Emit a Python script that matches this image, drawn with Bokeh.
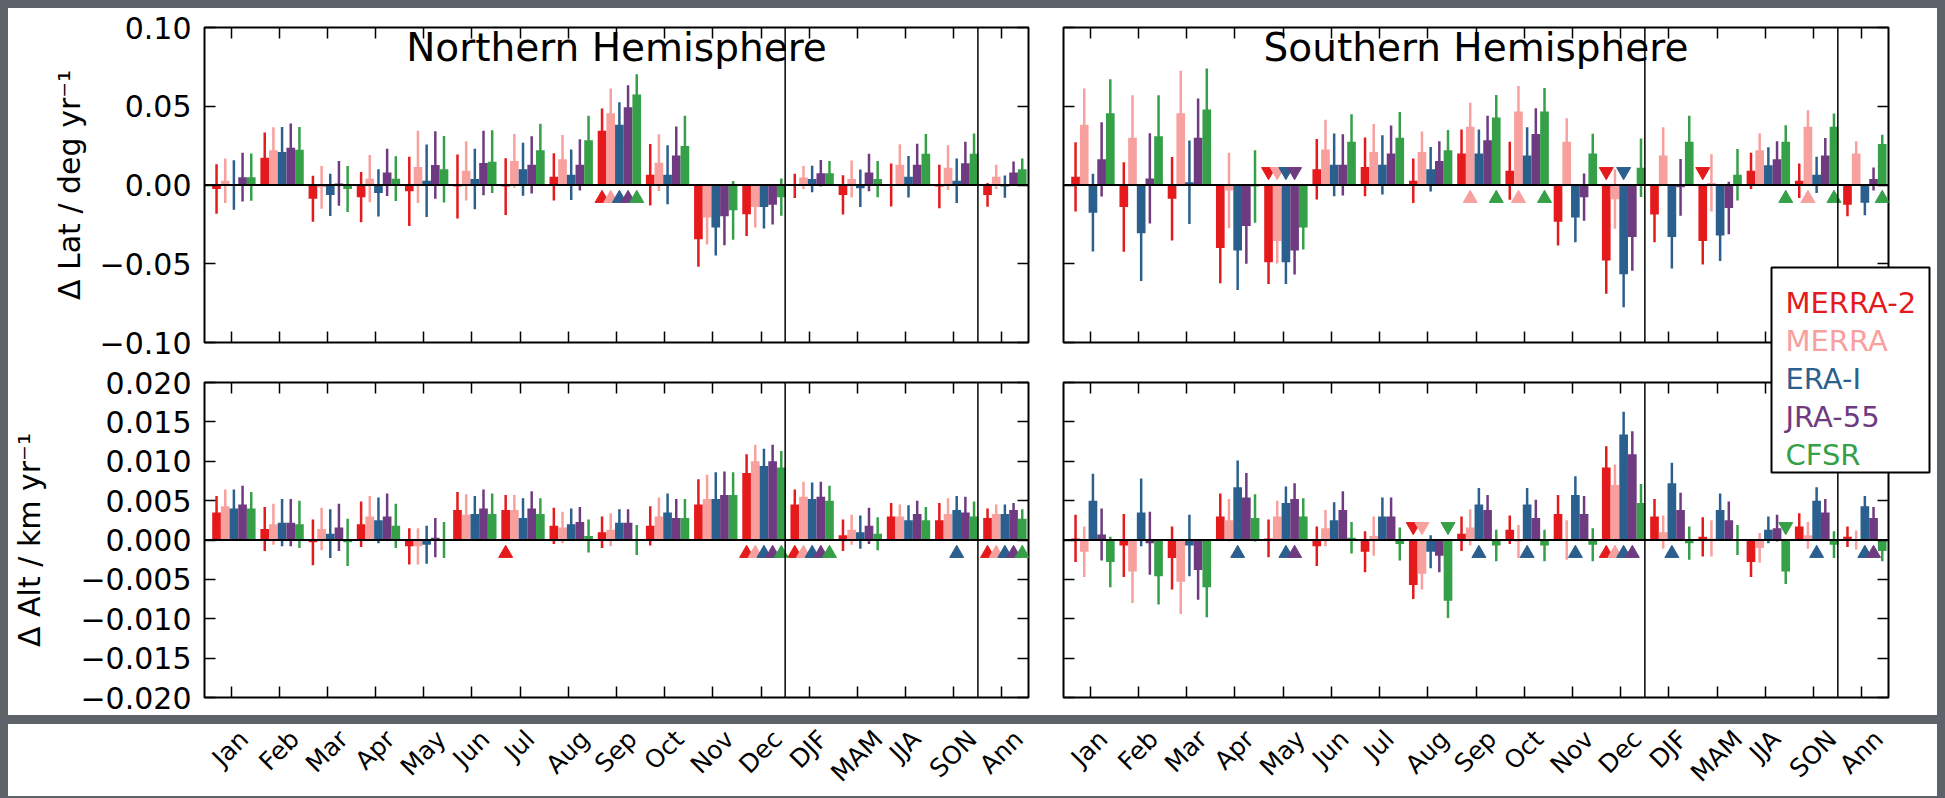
import math
from bokeh.plotting import figure
from bokeh.models import (Range1d, LinearAxis, FixedTicker, CustomJSTickFormatter,
                          Span, Label, GridBox, ColumnDataSource)
from bokeh.layouts import column, row
from bokeh.embed import file_html
from bokeh.resources import INLINE
from bokeh.core.properties import value

# ---------------- data ----------------
categories = ["Jan", "Feb", "Mar", "Apr", "May", "Jun", "Jul", "Aug", "Sep", "Oct",
              "Nov", "Dec", "DJF", "MAM", "JJA", "SON", "Ann"]
series = ["MERRA-2", "MERRA", "ERA-I", "JRA-55", "CFSR"]
colors = ["#e41a1c", "#f8a09e", "#2b5f8e", "#6f3b80", "#35a048"]

# Northern Hemisphere, latitude trend (deg / yr)
nh_lat_merra2 = [-0.0025, 0.0173, -0.0088, -0.0077, -0.0040, -0.0010, -0.0010, 0.0052, 0.0345, 0.0065, -0.0345, -0.0186, -0.0005, -0.0063, 0.0000, -0.0010, -0.0063]
nh_lat_merra2_err = [0.0157, 0.0160, 0.0146, 0.0160, 0.0220, 0.0203, 0.0180, 0.0150, 0.0140, 0.0195, 0.0174, 0.0138, 0.0077, 0.0125, 0.0136, 0.0138, 0.0075]
nh_lat_merra = [0.0027, 0.0220, -0.0015, 0.0040, 0.0115, 0.0090, 0.0153, 0.0163, 0.0456, 0.0142, -0.0207, -0.0140, 0.0048, 0.0038, 0.0128, 0.0110, 0.0052]
nh_lat_merra_err = [0.0142, 0.0146, 0.0136, 0.0150, 0.0230, 0.0188, 0.0171, 0.0155, 0.0157, 0.0180, 0.0171, 0.0130, 0.0073, 0.0117, 0.0130, 0.0142, 0.0077]
nh_lat_erai = [0.0000, 0.0210, -0.0063, -0.0050, 0.0027, 0.0038, 0.0100, 0.0065, 0.0383, 0.0065, -0.0270, -0.0140, 0.0038, -0.0020, 0.0052, 0.0027, -0.0010]
nh_lat_erai_err = [0.0157, 0.0159, 0.0134, 0.0150, 0.0230, 0.0192, 0.0169, 0.0161, 0.0142, 0.0188, 0.0178, 0.0136, 0.0084, 0.0119, 0.0132, 0.0142, 0.0071]
nh_lat_jra55 = [0.0050, 0.0236, 0.0010, 0.0080, 0.0127, 0.0140, 0.0128, 0.0128, 0.0493, 0.0188, -0.0199, -0.0125, 0.0075, 0.0080, 0.0128, 0.0138, 0.0080]
nh_lat_jra55_err = [0.0155, 0.0155, 0.0142, 0.0150, 0.0215, 0.0205, 0.0182, 0.0163, 0.0140, 0.0184, 0.0184, 0.0125, 0.0084, 0.0119, 0.0134, 0.0136, 0.0069]
nh_lat_cfsr = [0.0050, 0.0224, -0.0025, 0.0040, 0.0100, 0.0148, 0.0220, 0.0284, 0.0575, 0.0247, -0.0161, -0.0077, 0.0075, 0.0038, 0.0199, 0.0199, 0.0100]
nh_lat_cfsr_err = [0.0150, 0.0144, 0.0146, 0.0142, 0.0211, 0.0199, 0.0169, 0.0155, 0.0128, 0.0192, 0.0186, 0.0119, 0.0077, 0.0115, 0.0125, 0.0128, 0.0069]

# Southern Hemisphere, latitude trend (deg / yr)
sh_lat_merra2 = [0.0052, -0.0140, -0.0088, -0.0400, -0.0490, 0.0100, 0.0115, 0.0027, 0.0200, 0.0090, -0.0234, -0.0480, -0.0188, -0.0355, 0.0090, 0.0027, -0.0125]
sh_lat_merra2_err = [0.0220, 0.0284, 0.0265, 0.0224, 0.0138, 0.0192, 0.0186, 0.0142, 0.0153, 0.0184, 0.0150, 0.0210, 0.0176, 0.0150, 0.0115, 0.0109, 0.0073]
sh_lat_merra = [0.0383, 0.0300, 0.0456, -0.0035, -0.0355, 0.0226, 0.0210, 0.0210, 0.0370, 0.0466, 0.0274, -0.0090, 0.0188, 0.0013, 0.0220, 0.0370, 0.0200]
sh_lat_merra_err = [0.0230, 0.0270, 0.0270, 0.0240, 0.0144, 0.0188, 0.0178, 0.0130, 0.0153, 0.0163, 0.0150, 0.0188, 0.0178, 0.0182, 0.0109, 0.0105, 0.0077]
sh_lat_erai = [-0.0176, -0.0307, 0.0017, -0.0416, -0.0490, 0.0128, 0.0128, 0.0100, 0.0200, 0.0188, -0.0207, -0.0566, -0.0330, -0.0320, 0.0125, 0.0065, -0.0113]
sh_lat_erai_err = [0.0247, 0.0303, 0.0265, 0.0250, 0.0138, 0.0199, 0.0188, 0.0142, 0.0153, 0.0178, 0.0157, 0.0210, 0.0200, 0.0163, 0.0115, 0.0115, 0.0079]
sh_lat_jra55 = [0.0163, 0.0042, 0.0300, -0.0260, -0.0416, 0.0128, 0.0200, 0.0153, 0.0284, 0.0324, -0.0077, -0.0330, -0.0015, -0.0146, 0.0163, 0.0188, 0.0038]
sh_lat_jra55_err = [0.0236, 0.0286, 0.0250, 0.0240, 0.0153, 0.0194, 0.0178, 0.0125, 0.0155, 0.0163, 0.0150, 0.0215, 0.0180, 0.0167, 0.0115, 0.0111, 0.0073]
sh_lat_cfsr = [0.0456, 0.0310, 0.0480, -0.0010, -0.0270, 0.0274, 0.0300, 0.0220, 0.0429, 0.0466, 0.0200, 0.0110, 0.0274, 0.0065, 0.0274, 0.0370, 0.0260]
sh_lat_cfsr_err = [0.0215, 0.0260, 0.0260, 0.0230, 0.0140, 0.0176, 0.0163, 0.0130, 0.0142, 0.0150, 0.0125, 0.0186, 0.0165, 0.0163, 0.0105, 0.0084, 0.0059]

# Northern Hemisphere, altitude trend (km / yr)
nh_alt_merra2 = [0.0035, 0.0014, -0.0003, 0.0020, -0.0008, 0.0038, 0.0038, 0.0018, 0.0010, 0.0018, 0.0045, 0.0085, 0.0045, 0.0006, 0.0030, 0.0025, 0.0028]
nh_alt_merra2_err = [0.0021, 0.0028, 0.0029, 0.0029, 0.0023, 0.0023, 0.0019, 0.0023, 0.0020, 0.0025, 0.0032, 0.0024, 0.0019, 0.0020, 0.0017, 0.0022, 0.0012]
nh_alt_merra = [0.0043, 0.0020, 0.0014, 0.0030, -0.0008, 0.0032, 0.0038, 0.0016, 0.0013, 0.0030, 0.0052, 0.0100, 0.0055, 0.0013, 0.0030, 0.0033, 0.0033]
nh_alt_merra_err = [0.0021, 0.0026, 0.0027, 0.0026, 0.0023, 0.0026, 0.0019, 0.0020, 0.0021, 0.0024, 0.0031, 0.0021, 0.0019, 0.0019, 0.0015, 0.0020, 0.0012]
nh_alt_erai = [0.0040, 0.0022, 0.0008, 0.0025, -0.0006, 0.0033, 0.0028, 0.0020, 0.0022, 0.0035, 0.0052, 0.0094, 0.0052, 0.0010, 0.0025, 0.0038, 0.0033]
nh_alt_erai_err = [0.0024, 0.0030, 0.0031, 0.0029, 0.0024, 0.0023, 0.0025, 0.0020, 0.0017, 0.0024, 0.0034, 0.0022, 0.0021, 0.0021, 0.0019, 0.0018, 0.0012]
nh_alt_jra55 = [0.0045, 0.0022, 0.0016, 0.0030, 0.0003, 0.0040, 0.0040, 0.0023, 0.0022, 0.0028, 0.0057, 0.0100, 0.0055, 0.0018, 0.0033, 0.0035, 0.0038]
nh_alt_jra55_err = [0.0024, 0.0030, 0.0030, 0.0029, 0.0025, 0.0024, 0.0022, 0.0019, 0.0017, 0.0024, 0.0030, 0.0021, 0.0019, 0.0023, 0.0017, 0.0020, 0.0009]
nh_alt_cfsr = [0.0040, 0.0020, -0.0003, 0.0018, 0.0000, 0.0033, 0.0033, 0.0005, 0.0000, 0.0028, 0.0057, 0.0092, 0.0050, 0.0008, 0.0025, 0.0030, 0.0027]
nh_alt_cfsr_err = [0.0021, 0.0030, 0.0030, 0.0028, 0.0023, 0.0026, 0.0020, 0.0021, 0.0019, 0.0024, 0.0029, 0.0021, 0.0019, 0.0021, 0.0017, 0.0019, 0.0012]

# Southern Hemisphere, altitude trend (km / yr)
sh_alt_merra2 = [0.0002, -0.0007, -0.0023, 0.0030, 0.0002, -0.0008, -0.0015, -0.0057, 0.0008, 0.0013, 0.0033, 0.0092, 0.0030, 0.0004, -0.0028, 0.0017, 0.0004]
sh_alt_merra2_err = [0.0030, 0.0040, 0.0040, 0.0029, 0.0024, 0.0025, 0.0026, 0.0018, 0.0022, 0.0018, 0.0024, 0.0027, 0.0022, 0.0025, 0.0019, 0.0017, 0.0013]
sh_alt_merra = [-0.0015, -0.0040, -0.0053, 0.0025, 0.0030, 0.0015, 0.0005, -0.0043, 0.0016, -0.0002, 0.0000, 0.0070, 0.0010, 0.0002, -0.0010, 0.0006, 0.0000]
sh_alt_merra_err = [0.0032, 0.0040, 0.0041, 0.0027, 0.0020, 0.0023, 0.0025, 0.0020, 0.0023, 0.0021, 0.0025, 0.0026, 0.0021, 0.0023, 0.0019, 0.0017, 0.0012]
sh_alt_erai = [0.0050, 0.0035, -0.0007, 0.0067, 0.0047, 0.0025, 0.0030, -0.0015, 0.0045, 0.0045, 0.0057, 0.0134, 0.0072, 0.0038, 0.0013, 0.0050, 0.0043]
sh_alt_erai_err = [0.0034, 0.0043, 0.0039, 0.0034, 0.0021, 0.0023, 0.0024, 0.0021, 0.0021, 0.0021, 0.0024, 0.0029, 0.0026, 0.0021, 0.0017, 0.0017, 0.0013]
sh_alt_jra55 = [0.0007, -0.0004, -0.0038, 0.0054, 0.0052, 0.0038, 0.0030, -0.0020, 0.0038, 0.0028, 0.0033, 0.0109, 0.0038, 0.0025, 0.0015, 0.0035, 0.0028]
sh_alt_jra55_err = [0.0033, 0.0040, 0.0038, 0.0031, 0.0020, 0.0024, 0.0024, 0.0021, 0.0019, 0.0023, 0.0023, 0.0029, 0.0022, 0.0024, 0.0017, 0.0017, 0.0014]
sh_alt_cfsr = [-0.0028, -0.0046, -0.0060, 0.0028, 0.0030, 0.0003, -0.0005, -0.0077, -0.0007, -0.0007, -0.0006, 0.0047, -0.0004, 0.0000, -0.0040, -0.0006, -0.0014]
sh_alt_cfsr_err = [0.0032, 0.0036, 0.0038, 0.0030, 0.0023, 0.0020, 0.0021, 0.0022, 0.0020, 0.0020, 0.0021, 0.0024, 0.0021, 0.0019, 0.0016, 0.0017, 0.0013]

# significance flags (1 = significant trend, marked by a triangle)
nh_lat_sig_merra2 = [0, 0, 0, 0, 0, 0, 0, 0, 1, 0, 0, 0, 0, 0, 0, 0, 0]
nh_lat_sig_merra = [0, 0, 0, 0, 0, 0, 0, 0, 1, 0, 0, 0, 0, 0, 0, 0, 0]
nh_lat_sig_erai = [0, 0, 0, 0, 0, 0, 0, 0, 1, 0, 0, 0, 0, 0, 0, 0, 0]
nh_lat_sig_jra55 = [0, 0, 0, 0, 0, 0, 0, 0, 1, 0, 0, 0, 0, 0, 0, 0, 0]
nh_lat_sig_cfsr = [0, 0, 0, 0, 0, 0, 0, 0, 1, 0, 0, 0, 0, 0, 0, 0, 0]

sh_lat_sig_merra2 = [0, 0, 0, 0, 1, 0, 0, 0, 0, 0, 0, 1, 0, 1, 0, 0, 0]
sh_lat_sig_merra = [0, 0, 0, 0, 1, 0, 0, 0, 1, 1, 0, 0, 0, 0, 0, 1, 0]
sh_lat_sig_erai = [0, 0, 0, 0, 1, 0, 0, 0, 0, 0, 0, 1, 0, 0, 0, 0, 0]
sh_lat_sig_jra55 = [0, 0, 0, 0, 1, 0, 0, 0, 0, 0, 0, 0, 0, 0, 0, 0, 0]
sh_lat_sig_cfsr = [0, 0, 0, 0, 0, 0, 0, 0, 1, 1, 0, 0, 0, 0, 1, 1, 1]

nh_alt_sig_merra2 = [0, 0, 0, 0, 0, 0, 1, 0, 0, 0, 0, 1, 1, 0, 0, 0, 1]
nh_alt_sig_merra = [0, 0, 0, 0, 0, 0, 0, 0, 0, 0, 0, 1, 1, 0, 0, 0, 1]
nh_alt_sig_erai = [0, 0, 0, 0, 0, 0, 0, 0, 0, 0, 0, 1, 1, 0, 0, 1, 1]
nh_alt_sig_jra55 = [0, 0, 0, 0, 0, 0, 0, 0, 0, 0, 0, 1, 1, 0, 0, 0, 1]
nh_alt_sig_cfsr = [0, 0, 0, 0, 0, 0, 0, 0, 0, 0, 0, 1, 1, 0, 0, 0, 1]

sh_alt_sig_merra2 = [0, 0, 0, 0, 0, 0, 0, 1, 0, 0, 0, 1, 0, 0, 0, 0, 0]
sh_alt_sig_merra = [0, 0, 0, 0, 0, 0, 0, 1, 0, 0, 0, 1, 0, 0, 0, 0, 0]
sh_alt_sig_erai = [0, 0, 0, 1, 1, 0, 0, 0, 1, 1, 1, 1, 1, 0, 0, 1, 1]
sh_alt_sig_jra55 = [0, 0, 0, 0, 1, 0, 0, 0, 0, 0, 0, 1, 0, 0, 0, 0, 1]
sh_alt_sig_cfsr = [0, 0, 0, 0, 0, 0, 0, 1, 0, 0, 0, 0, 0, 0, 1, 0, 0]

lat_ticks = [-0.10, -0.05, 0.0, 0.05, 0.10]
alt_ticks = [-0.020, -0.015, -0.010, -0.005, 0.0, 0.005, 0.010, 0.015, 0.020]

# ---------------- styling / layout ----------------
FONT = "DejaVu Sans"
GRAY = "#5e6269"
X_LO, X_HI = -0.55, 16.55
BAR_W = 0.18
OFFSETS = [-0.30, -0.12, 0.06, 0.24, 0.42]
NCAT = len(categories)


def hidden_axis(ticks):
    return LinearAxis(ticker=FixedTicker(ticks=ticks, minor_ticks=[]),
                      axis_line_color=None, major_tick_in=11, major_tick_out=0,
                      major_tick_line_width=1.5, major_tick_line_color="black",
                      major_label_text_color=None, major_label_text_alpha=0,
                      major_label_text_font_size="0px", major_label_standoff=0)


def panel(width, height, borders, yr, yticks, decimals, vals, errs, sigs, mark_y,
          show_labels, ylabel, label_standoff, title):
    l, r, t, b = borders
    p = figure(width=width, height=height, x_range=Range1d(X_LO, X_HI),
               y_range=Range1d(*yr), x_axis_type=None, y_axis_type=None,
               toolbar_location=None, output_backend="svg",
               min_border_left=l, min_border_right=r, min_border_top=t, min_border_bottom=b,
               background_fill_color="white", border_fill_color="white")
    p.outline_line_color = "black"
    p.outline_line_width = 2

    if show_labels:
        ax = LinearAxis(ticker=FixedTicker(ticks=yticks, minor_ticks=[]),
                        axis_line_color=None, major_tick_in=11, major_tick_out=0,
                        major_tick_line_width=1.5, major_tick_line_color="black",
                        formatter=CustomJSTickFormatter(
                            code="return tick.toFixed(%d).replace('-', '\\u2212');" % decimals),
                        major_label_text_font=FONT, major_label_text_font_size="30px",
                        major_label_text_color="black", major_label_standoff=13,
                        axis_label=ylabel, axis_label_text_font=FONT,
                        axis_label_text_font_size="30px", axis_label_text_font_style="normal",
                        axis_label_text_color="black", axis_label_standoff=label_standoff)
    else:
        ax = hidden_axis(yticks)
    p.add_layout(ax, "left")
    p.add_layout(hidden_axis(yticks), "right")
    p.add_layout(hidden_axis(list(range(NCAT))), "below")
    p.add_layout(hidden_axis(list(range(NCAT))), "above")

    for i in range(5):
        xs = [k + OFFSETS[i] for k in range(NCAT)]
        src = ColumnDataSource(dict(x=xs, top=vals[i],
                                    lo=[v - e for v, e in zip(vals[i], errs[i])],
                                    hi=[v + e for v, e in zip(vals[i], errs[i])]))
        p.vbar(x="x", top="top", bottom=0, width=BAR_W, source=src,
               fill_color=colors[i], line_color=None)
        p.segment(x0="x", y0="lo", x1="x", y1="hi", source=src,
                  line_color=colors[i], line_width=2.5)
        ux = [x for x, v, s in zip(xs, vals[i], sigs[i]) if s and v >= 0]
        dx = [x for x, v, s in zip(xs, vals[i], sigs[i]) if s and v < 0]
        p.scatter(x=ux, y=[-mark_y] * len(ux), marker="triangle", size=14,
                  fill_color=colors[i], line_color=colors[i])
        p.scatter(x=dx, y=[mark_y] * len(dx), marker="inverted_triangle", size=14,
                  fill_color=colors[i], line_color=colors[i])

    p.add_layout(Span(location=0, dimension="width", line_color="black", line_width=2))
    p.add_layout(Span(location=11.5, dimension="height", line_color="black", line_width=1.5))
    p.add_layout(Span(location=15.5, dimension="height", line_color="black", line_width=1.5))
    if title:
        p.add_layout(Label(x=(X_LO + X_HI) / 2, y=yr[1], y_offset=-20, text=title,
                           text_align="center", text_baseline="alphabetic",
                           text_font=FONT, text_font_size="39px", text_color="black"))
    return p


nh_lat_vals = [nh_lat_merra2, nh_lat_merra, nh_lat_erai, nh_lat_jra55, nh_lat_cfsr]
nh_lat_errs = [nh_lat_merra2_err, nh_lat_merra_err, nh_lat_erai_err, nh_lat_jra55_err, nh_lat_cfsr_err]
nh_lat_sigs = [nh_lat_sig_merra2, nh_lat_sig_merra, nh_lat_sig_erai, nh_lat_sig_jra55, nh_lat_sig_cfsr]
sh_lat_vals = [sh_lat_merra2, sh_lat_merra, sh_lat_erai, sh_lat_jra55, sh_lat_cfsr]
sh_lat_errs = [sh_lat_merra2_err, sh_lat_merra_err, sh_lat_erai_err, sh_lat_jra55_err, sh_lat_cfsr_err]
sh_lat_sigs = [sh_lat_sig_merra2, sh_lat_sig_merra, sh_lat_sig_erai, sh_lat_sig_jra55, sh_lat_sig_cfsr]
nh_alt_vals = [nh_alt_merra2, nh_alt_merra, nh_alt_erai, nh_alt_jra55, nh_alt_cfsr]
nh_alt_errs = [nh_alt_merra2_err, nh_alt_merra_err, nh_alt_erai_err, nh_alt_jra55_err, nh_alt_cfsr_err]
nh_alt_sigs = [nh_alt_sig_merra2, nh_alt_sig_merra, nh_alt_sig_erai, nh_alt_sig_jra55, nh_alt_sig_cfsr]
sh_alt_vals = [sh_alt_merra2, sh_alt_merra, sh_alt_erai, sh_alt_jra55, sh_alt_cfsr]
sh_alt_errs = [sh_alt_merra2_err, sh_alt_merra_err, sh_alt_erai_err, sh_alt_jra55_err, sh_alt_cfsr_err]
sh_alt_sigs = [sh_alt_sig_merra2, sh_alt_sig_merra, sh_alt_sig_erai, sh_alt_sig_jra55, sh_alt_sig_cfsr]

LEFT_W, RIGHT_W = 1037, 892
TOP_H, BOT_H = 354, 353

nh_top = panel(LEFT_W, TOP_H, (196, 17, 19, 20), (-0.1, 0.1), lat_ticks, 2,
               nh_lat_vals, nh_lat_errs, nh_lat_sigs, 0.0085, True,
               "\u0394 Lat / deg yr\u207b\u00b9", 10, "Northern Hemisphere")
sh_top = panel(RIGHT_W, TOP_H, (18, 49, 19, 20), (-0.1, 0.1), lat_ticks, 2,
               sh_lat_vals, sh_lat_errs, sh_lat_sigs, 0.0085, False, None, 0,
               "Southern Hemisphere")
nh_bot = panel(LEFT_W, BOT_H, (196, 17, 20, 18), (-0.02, 0.02), alt_ticks, 3,
               nh_alt_vals, nh_alt_errs, nh_alt_sigs, 0.0017, True,
               "\u0394 Alt / km yr\u207b\u00b9", 30, None)
sh_bot = panel(RIGHT_W, BOT_H, (18, 49, 20, 18), (-0.02, 0.02), alt_ticks, 3,
               sh_alt_vals, sh_alt_errs, sh_alt_sigs, 0.0017, False, None, 0, None)

# legend overlay (transparent canvas spanning the right column)
LEG_H = TOP_H + BOT_H
leg = figure(width=RIGHT_W, height=LEG_H, x_axis_type=None, y_axis_type=None,
             toolbar_location=None, output_backend="svg", min_border=0,
             background_fill_alpha=0, border_fill_alpha=0)
if "frame_align" in leg.properties():
    leg.frame_align = False
    leg.x_range = Range1d(0, RIGHT_W)
    leg.y_range = Range1d(LEG_H, 0)
else:
    leg.x_range = Range1d(18, RIGHT_W - 49)
    leg.y_range = Range1d(LEG_H - 18, 19)
leg.outline_line_color = None
leg.quad(left=[726], right=[884], top=[259], bottom=[464], fill_color="white",
         line_color="black", line_width=2)
leg.text(x=[740] * 5, y=[294, 332, 370, 408, 446], text=series, text_color=colors,
         text_align="left", text_baseline="alphabetic", text_font=value(FONT),
         text_font_size="29px")

grid = GridBox(children=[(nh_top, 0, 0), (sh_top, 0, 1), (nh_bot, 1, 0), (sh_bot, 1, 1),
                         (leg, 0, 1, 2, 1)], spacing=0,
               styles={"background-color": "white"})

# rotated month labels strip
CHAR_W = {"J": .295, "a": .613, "n": .634, "F": .575, "e": .615, "b": .635, "M": .863,
          "r": .411, "A": .684, "p": .635, "y": .592, "u": .634, "l": .278, "g": .635,
          "S": .635, "O": .787, "c": .550, "t": .392, "N": .748, "o": .612, "v": .592,
          "D": .770}
LAB_FS = 25
STRIP_H = 72


def strip(width, l, r):
    s = figure(width=width, height=STRIP_H, x_range=Range1d(X_LO, X_HI),
               y_range=Range1d(STRIP_H, 0), x_axis_type=None, y_axis_type=None,
               toolbar_location=None, output_backend="svg",
               min_border_left=l, min_border_right=r, min_border_top=0, min_border_bottom=0,
               background_fill_color="white", border_fill_color="white")
    s.outline_line_color = None
    offs = [0.354 * (sum(CHAR_W.get(ch, 0.6) for ch in c) - 1.0) * LAB_FS - 2 for c in categories]
    s.text(x=list(range(NCAT)), y=[0] * NCAT, text=categories, angle=math.pi / 4,
           x_offset=offs, text_align="right", text_baseline="top",
           text_font=value(FONT), text_font_size="%dpx" % LAB_FS, text_color="black")
    return s


strip_row = row(strip(LEFT_W, 196, 17), strip(RIGHT_W + 8, 18, 57), spacing=0,
                styles={"background-color": "white"})
page = column(grid, strip_row, spacing=9)

html = file_html(page, INLINE)
html = html.replace("</head>", "<style>html,body{background:%s;} body{margin:8px 8px 0 8px;overflow:hidden;}</style></head>" % GRAY, 1)
open("out.html", "w").write(html)
